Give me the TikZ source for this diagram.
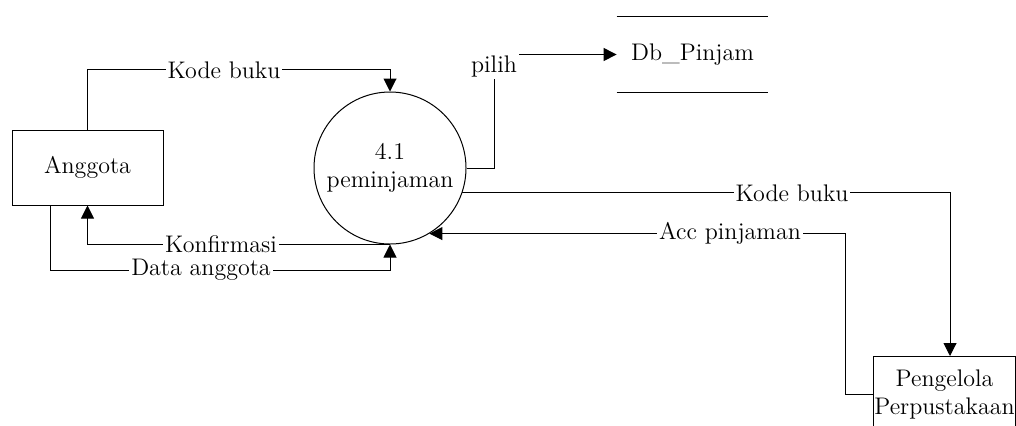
\documentclass[tikz,border=0pt]{standalone}
\usetikzlibrary{arrows.meta, positioning, calc}

\definecolor{lineBlack}{HTML}{000000}
\newcommand{\dfdFont}{\rmfamily\fontsize{12}{14}\selectfont}

\tikzset{
    % Common
    arrowFlow/.style={-{Triangle[length=6.5pt,width=6.5pt]}, line width=0.5pt, draw=lineBlack},
    plainFlow/.style={line width=0.5pt, draw=lineBlack},
    flowLabel/.style={fill=white, inner sep=1pt, font=\dfdFont},
    % Entities, process, store
    entityBox/.style={rectangle, draw=lineBlack, line width=0.5pt, minimum width=75.5pt, minimum height=37.5pt, align=center, font=\dfdFont},
    processCircle/.style={circle, draw=lineBlack, line width=0.5pt, minimum size=76pt, inner sep=0pt, align=center, font=\dfdFont},
    storeText/.style={rectangle, minimum width=75.5pt, minimum height=37.5pt, inner sep=0pt, font=\dfdFont}
}

\begin{document}
\begin{tikzpicture}[x=0.5pt, y=-0.5pt]
    \useasboundingbox (0,0) rectangle (1016,425);

    % Entities, process and data store
    \node[entityBox] (anggota) at (87.5,167.5) {Anggota};
    \node[processCircle] (proc) at (390,168) {4.1\\peminjaman};
    \node[storeText] (dbPinjam) at (692.5,54.5) {Db\_Pinjam};
    \draw[plainFlow] (dbPinjam.north west) -- (dbPinjam.north east);
    \draw[plainFlow] (dbPinjam.south west) -- (dbPinjam.south east);
    \node[entityBox, minimum width=70.5pt, inner xsep=0.3pt] (pengelola) at (944.5,394) {Pengelola\\Perpustakaan};

    % Anggota <-> proses
    \draw[arrowFlow] (anggota.north) -- ++(0,-60) -| (proc.north);
    \node[flowLabel] (lblKodeA) at (224,70) {Kode buku};
    \draw[arrowFlow] (proc.south) -| (anggota.south);
    \node[flowLabel] (lblKonfirmasi) at (221,244) {Konfirmasi};
    \draw[arrowFlow] ([xshift=-18.75pt]anggota.south) -- ++(0,65) -| (proc.south);
    \node[flowLabel] (lblData) at (201,270) {Data anggota};

    % Proses -> store
    \draw[arrowFlow] (proc.east) -- ++(28,0) |- (dbPinjam.west);
    \node[flowLabel] (lblPilih) at (494,66) {pilih};

    % Proses <-> pengelola
    \draw[arrowFlow] (proc.-19) -| ([xshift=2.75pt]pengelola.north);
    \node[flowLabel] (lblKodeP) at (792,193) {Kode buku};
    \draw[arrowFlow] (pengelola.west) -- ++(-28,0) |- (proc.-59);
    \node[flowLabel] (lblAcc) at (730,233) {Acc pinjaman};
\end{tikzpicture}
\end{document}
